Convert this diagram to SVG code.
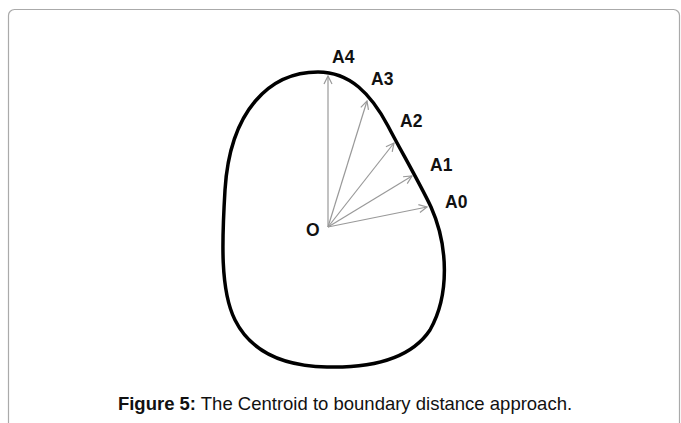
<svg xmlns="http://www.w3.org/2000/svg" width="681" height="423" viewBox="0 0 681 423">
<style>
.lbl{font-family:"Liberation Sans",Arial,sans-serif;font-weight:bold;font-size:17.5px;fill:#111}
.ray{stroke:#999;stroke-width:1.2;fill:none;marker-end:url(#ah)}
.cap{font-family:"Liberation Sans",Arial,sans-serif;font-size:18.5px;fill:#111}
</style>
<defs>
<marker id="ah" viewBox="0 0 10 10" refX="9" refY="5" markerWidth="10" markerHeight="10" markerUnits="userSpaceOnUse" orient="auto">
<path d="M1,1 L9,5 L1,9" fill="none" stroke="#999" stroke-width="1.2"/>
</marker>
</defs>
<rect x="8.5" y="9.5" width="671" height="460" rx="6" fill="#fff" stroke="#aaa" stroke-width="1.2"/>
<g id="boundary">
<path d="M318,72 C350,72 371,94 388,126 C401,151 418,180 431,207 C448,245 450,295 430,330 C410,360 370,368 327,367 C280,366 250,350 235,320 C220,290 222,240 225,190 C230,110 270,72 318,72 Z" fill="none" stroke="#000" stroke-width="3.5"/>
</g>
<g id="connectors">
<line class="ray" x1="328" y1="227" x2="328" y2="76"/>
<line class="ray" x1="328" y1="227" x2="367" y2="101"/>
<line class="ray" x1="328" y1="227" x2="394" y2="143"/>
<line class="ray" x1="328" y1="227" x2="412" y2="176"/>
<line class="ray" x1="328" y1="227" x2="427" y2="207"/>
</g>
<g id="O"><text class="lbl" x="306" y="236" font-size="18">O</text></g>
<g id="A4"><text class="lbl" x="332" y="63">A4</text></g>
<g id="A3"><text class="lbl" x="371" y="85">A3</text></g>
<g id="A2"><text class="lbl" x="400" y="127">A2</text></g>
<g id="A1"><text class="lbl" x="430" y="171">A1</text></g>
<g id="A0"><text class="lbl" x="445" y="208">A0</text></g>
<g id="caption"><text class="cap" x="345" y="410" text-anchor="middle"><tspan font-weight="bold">Figure 5:</tspan> The Centroid to boundary distance approach.</text></g>
</svg>
